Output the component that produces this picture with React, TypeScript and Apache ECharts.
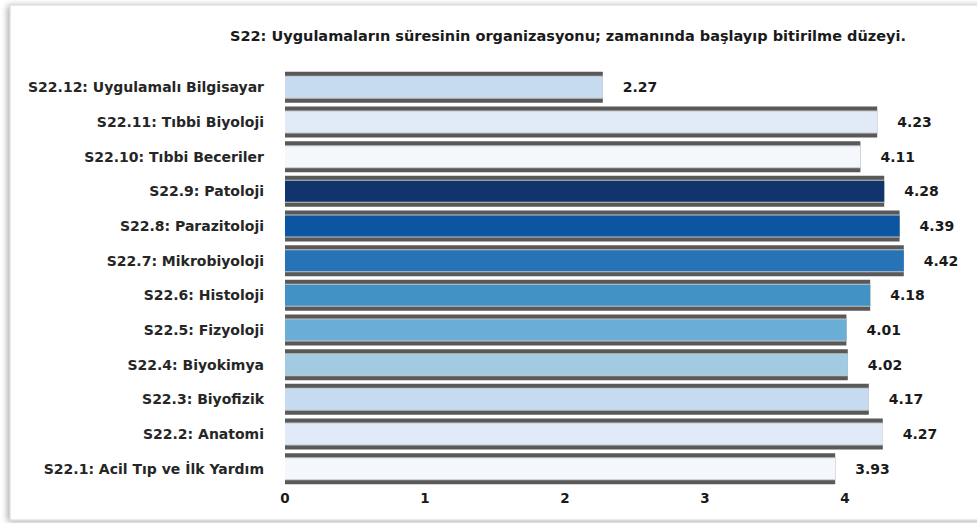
import React, { useEffect, useRef } from "react";
import * as echarts from "echarts";

const chartTitle =
  "S22: Uygulamaların süresinin organizasyonu; zamanında başlayıp bitirilme düzeyi.";

const categories = [
  "S22.1: Acil Tıp ve İlk Yardım",
  "S22.2: Anatomi",
  "S22.3: Biyofizik",
  "S22.4: Biyokimya",
  "S22.5: Fizyoloji",
  "S22.6: Histoloji",
  "S22.7: Mikrobiyoloji",
  "S22.8: Parazitoloji",
  "S22.9: Patoloji",
  "S22.10: Tıbbi Beceriler",
  "S22.11: Tıbbi Biyoloji",
  "S22.12: Uygulamalı Bilgisayar",
];

const values = [3.93, 4.27, 4.17, 4.02, 4.01, 4.18, 4.42, 4.39, 4.28, 4.11, 4.23, 2.27];

const barColors = [
  "#f4f8fd",
  "#e1ebf7",
  "#c6dbef",
  "#a2cbe2",
  "#6aaed6",
  "#4292c6",
  "#2673b8",
  "#0c55a0",
  "#12346c",
  "#f4f8fd",
  "#e1ebf7",
  "#c6dbef",
];

const xMin = 0;
const xMax = 4.6;
const xInterval = 1;

const FONT = "'DejaVu Sans', Verdana, sans-serif";

export default function App() {
  const ref = useRef<HTMLDivElement>(null);

  useEffect(() => {
    if (!ref.current) return;
    const chart = echarts.init(ref.current, null, { renderer: "svg" });
    chart.setOption({
      animation: false,
      backgroundColor: "#ffffff",
      title: {
        text: chartTitle,
        left: 225,
        top: 23,
        textStyle: {
          fontFamily: FONT,
          fontWeight: "bold",
          fontSize: 14.5,
          color: "#1a1a1a",
        },
      },
      graphic: [
        {
          type: "rect",
          z: -100,
          silent: true,
          shape: { x: 10, y: 5, width: 990, height: 515 },
          style: {
            fill: "#ffffff",
            stroke: "#d4d4d4",
            lineWidth: 1,
            shadowBlur: 6,
            shadowOffsetX: -2,
            shadowOffsetY: 1,
            shadowColor: "rgba(0,0,0,0.35)",
          },
        },
      ],
      grid: { left: 285, right: 48, top: 70, bottom: 37 },
      xAxis: {
        type: "value",
        min: xMin,
        max: xMax,
        interval: xInterval,
        splitLine: { show: false },
        axisLine: { show: false },
        axisTick: { show: false },
        axisLabel: {
          showMaxLabel: false,
          margin: 5,
          fontFamily: FONT,
          fontWeight: "bold",
          fontSize: 13.5,
          color: "#1a1a1a",
        },
      },
      yAxis: {
        type: "category",
        data: categories,
        axisLine: { show: false },
        axisTick: { show: false },
        axisLabel: {
          margin: 21,
          fontFamily: FONT,
          fontWeight: "bold",
          fontSize: 14,
          color: "#262626",
        },
      },
      series: [
        {
          type: "custom",
          z: 2,
          encode: { x: 0, y: 1 },
          data: values.map((v, i) => [v, i]),
          renderItem: (params: any, api: any) => {
            const v = api.value(0);
            const c = api.value(1);
            const s = api.coord([0, c]);
            const e = api.coord([v, c]);
            const w = e[0] - s[0];
            return {
              type: "group",
              children: [
                {
                  type: "rect",
                  shape: { x: s[0], y: s[1] - 15.5, width: w, height: 31 },
                  style: { fill: "#595959" },
                },
                {
                  type: "rect",
                  shape: { x: s[0], y: s[1] - 11.5, width: w, height: 23 },
                  style: { fill: "#c4c4c4" },
                },
              ],
            };
          },
        },
        {
          type: "bar",
          z: 3,
          barWidth: 21,
          data: values.map((v, i) => ({ value: v, itemStyle: { color: barColors[i] } })),
          label: {
            show: true,
            position: "right",
            distance: 20,
            fontFamily: FONT,
            fontWeight: "bold",
            fontSize: 14,
            color: "#1a1a1a",
            formatter: (p: any) => Number(p.value).toFixed(2),
          },
        },
      ],
    });
    return () => chart.dispose();
  }, []);

  return (
    <div
      ref={ref}
      style={{ position: "absolute", left: 0, top: 0, width: 977, height: 523 }}
    />
  );
}
